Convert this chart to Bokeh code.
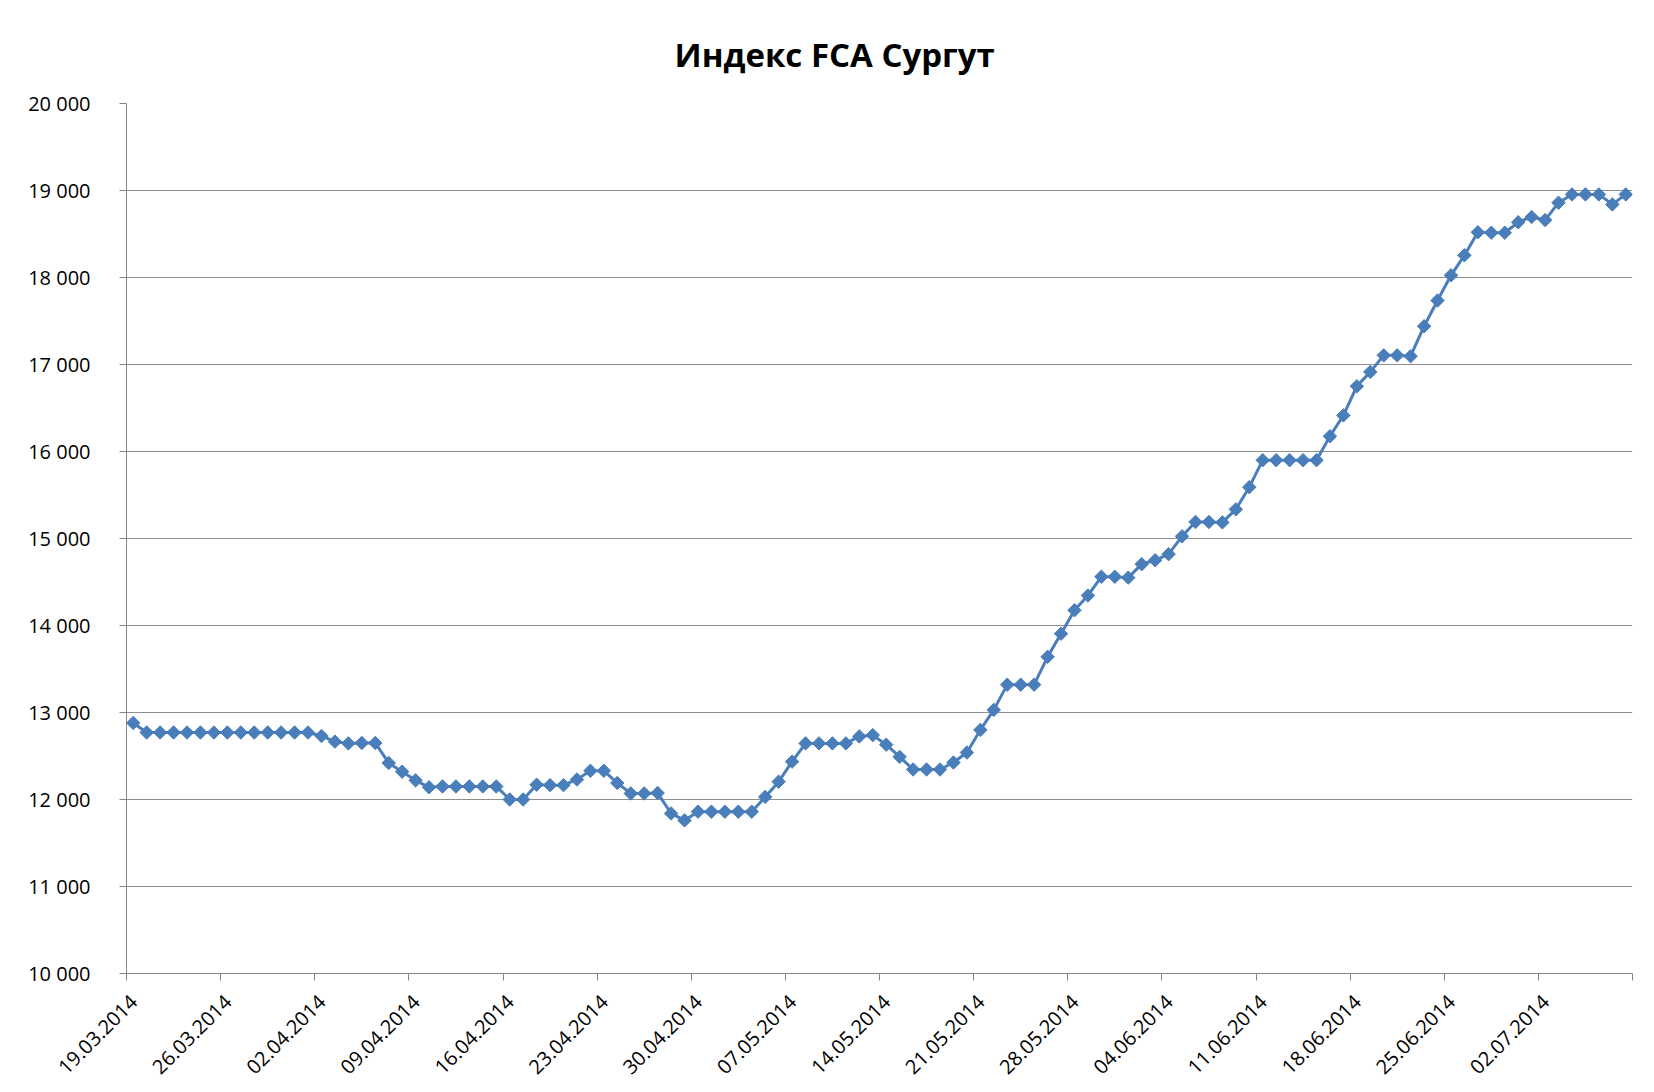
import pandas as pd
from math import pi
from bokeh.plotting import figure
from bokeh.models import FixedTicker, Range1d, DatetimeAxis
from bokeh.embed import file_html
from bokeh.resources import INLINE

# ---------------- data ----------------
title_text = "Индекс FCA Сургут"
start_date = "2014-03-19"          # first daily observation
end_date = "2014-07-09"            # end of the date axis

index_values = [
    12880,
    12770, 12770, 12770, 12770, 12770, 12770, 12770, 12770, 12770, 12770, 12770, 12770, 12770,
    12730, 12665, 12645, 12650, 12650, 12420, 12320, 12220, 12140,
    12150, 12150, 12150, 12150, 12150,
    12000, 12000,
    12170, 12165, 12165, 12230, 12330, 12330, 12190, 12070, 12070, 12075, 11840, 11760,
    11860, 11860, 11860, 11860, 11860,
    12030, 12205, 12435,
    12645, 12645, 12645, 12645,
    12725, 12740, 12630, 12490,
    12345, 12345, 12345,
    12425, 12540, 12800, 13030,
    13320, 13320, 13320,
    13640, 13905, 14175, 14345, 14560, 14560, 14550, 14705, 14750, 14820, 15025, 15190,
    15190, 15185, 15335, 15590,
    15900, 15900, 15900, 15900, 15900,
    16175, 16415, 16750, 16915, 17105, 17105, 17095, 17440, 17735, 18025, 18255, 18520,
    18515, 18515, 18635, 18695, 18660, 18860, 18955, 18955, 18955, 18840, 18955,
]

x_tick_dates = [
    "2014-03-19", "2014-03-26", "2014-04-02", "2014-04-09", "2014-04-16", "2014-04-23",
    "2014-04-30", "2014-05-07", "2014-05-14", "2014-05-21", "2014-05-28", "2014-06-04",
    "2014-06-11", "2014-06-18", "2014-06-25", "2014-07-02", "2014-07-09",
]
x_tick_labels = [
    "19.03.2014", "26.03.2014", "02.04.2014", "09.04.2014", "16.04.2014", "23.04.2014",
    "30.04.2014", "07.05.2014", "14.05.2014", "21.05.2014", "28.05.2014", "04.06.2014",
    "11.06.2014", "18.06.2014", "25.06.2014", "02.07.2014", "",
]

y_ticks = [10000, 11000, 12000, 13000, 14000, 15000, 16000, 17000, 18000, 19000, 20000]
y_tick_labels = ["10 000", "11 000", "12 000", "13 000", "14 000", "15 000",
                 "16 000", "17 000", "18 000", "19 000", "20 000"]

# ---------------- build ----------------
# each daily point sits in the middle of its day slot (Excel date axis)
dates = pd.date_range(start_date, periods=len(index_values), freq="D") + pd.Timedelta(hours=12)

def to_ms(d):
    return int(pd.Timestamp(d).timestamp() * 1000)

x_ticks_ms = [to_ms(d) for d in x_tick_dates]
# rotated labels in Excel end slightly right of their tick mark
label_shift_ms = int(0.55 * 86400000)
x_label_pos_ms = [t + label_shift_ms for t in x_ticks_ms]

p = figure(
    x_axis_type="datetime",
    frame_width=1506, frame_height=870,
    min_border_left=126, min_border_right=15, min_border_top=103, min_border_bottom=105,
    output_backend="svg", toolbar_location=None,
    x_range=Range1d(pd.Timestamp(start_date), pd.Timestamp(end_date)),
    y_range=Range1d(y_ticks[0], y_ticks[-1]),
    background_fill_color="white", border_fill_color="white",
)
p.outline_line_color = None

p.title.text = title_text
p.title.text_font = "Open Sans"
p.title.text_font_size = "33px"
p.title.text_font_style = "bold"
p.title.text_color = "#000000"
p.title.align = "left"
p.title.offset = 548
p.title.standoff = 54

# y axis
p.yaxis.ticker = FixedTicker(ticks=y_ticks)
p.yaxis.major_label_overrides = dict(zip(y_ticks, y_tick_labels))
p.yaxis.major_label_text_font = "Open Sans"
p.yaxis.major_label_text_font_size = "20px"
p.yaxis.major_label_text_color = "#000000"
p.yaxis.major_label_standoff = 29
p.yaxis.axis_line_color = "#868686"
p.yaxis.major_tick_line_color = "#868686"
p.yaxis.major_tick_out = 7
p.yaxis.major_tick_in = 0
p.yaxis.minor_tick_line_color = None

# x axis: line + tick marks
xa = p.xaxis[0]
xa.ticker = FixedTicker(ticks=x_ticks_ms)
xa.major_label_overrides = {t: "" for t in x_ticks_ms}
xa.major_label_text_font_size = "0px"
xa.major_label_standoff = 0
xa.axis_line_color = "#868686"
xa.major_tick_line_color = "#868686"
xa.major_tick_out = 7
xa.major_tick_in = 0
xa.minor_tick_line_color = None

# x axis labels (second axis just carrying the rotated date labels)
xl = DatetimeAxis(
    ticker=FixedTicker(ticks=x_label_pos_ms),
    major_label_overrides=dict(zip(x_label_pos_ms, x_tick_labels)),
    major_label_orientation=pi / 4,
    major_label_text_font="Open Sans",
    major_label_text_font_size="20px",
    major_label_text_color="#000000",
    major_label_standoff=12,
    axis_line_color=None,
    major_tick_line_color=None,
    minor_tick_line_color=None,
)
p.add_layout(xl, "below")

# grid
p.xgrid.grid_line_color = None
p.ygrid.grid_line_color = "#8E8E8E"
p.ygrid.grid_line_width = 1.2

color = "#4A7EBB"
p.line(dates, index_values, line_color=color, line_width=3)
p.scatter(dates, index_values, marker="square", size=9.5, angle=pi / 4,
          fill_color=color, line_color=color, line_width=1)

open("out.html", "w").write(file_html(p, INLINE))
